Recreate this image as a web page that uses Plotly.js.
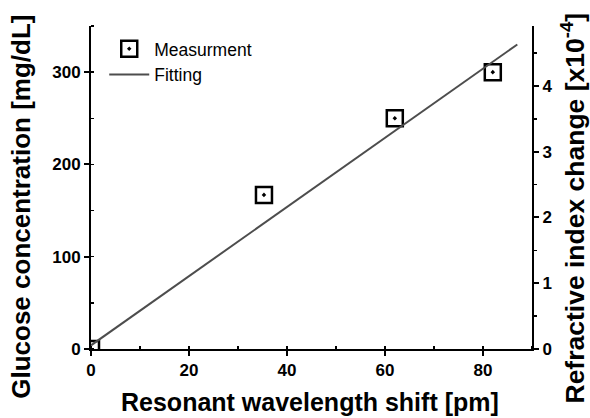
<!DOCTYPE html>
<html>
<head>
<meta charset="utf-8">
<script src="https://cdn.plot.ly/plotly-3.0.1.min.js"></script>
<style>html,body{margin:0;padding:0;background:#fff;}#plot{width:590px;height:418px;}</style>
</head>
<body>
<div id="plot"></div>
<script>
// Measured data
const shiftPm = [0, 35.3, 62, 82];
const glucose = [0, 167, 250, 300];
// Linear fit endpoints
const fitX = [0, 87];
const fitY = [4, 330];
// Axis ranges
const xRange = [0, 90];
const yRange = [0, 350];
const y2Range = [0, 4.91];
// Titles
const xTitle = 'Resonant wavelength shift [pm]';
const yTitle = 'Glucose concentration [mg/dL]';
const y2Title = 'Refractive index change [x10<sup>-4</sup>]';

const FAM = 'Liberation Sans, Arial, sans-serif';
const tickFont = {family: FAM, size: 17, color: '#000', weight: 'bold'};
const yTitleFont = {family: FAM, size: 26, color: '#000', weight: 'bold'};
const y2TitleFont = {family: FAM, size: 26.5, color: '#000', weight: 'bold'};
const xTitleFont = {family: FAM, size: 25, color: '#000', weight: 'bold'};

const traces = [
  {
    x: shiftPm, y: glucose, type: 'scatter', mode: 'markers', name: 'Measurment',
    marker: {symbol: 'square-open-dot', size: 16, color: '#000', line: {width: 2.5, color: '#000'}}
  },
  {
    x: fitX, y: fitY, type: 'scatter', mode: 'lines', name: 'Fitting',
    line: {color: '#4d4d4d', width: 2}
  },
  {
    x: [null], y: [null], yaxis: 'y2', type: 'scatter', mode: 'lines', showlegend: false, hoverinfo: 'skip'
  }
];

const layout = {
  width: 590, height: 418,
  margin: {l: 91, r: 58, t: 26, b: 69},
  paper_bgcolor: '#fff', plot_bgcolor: '#fff',
  showlegend: true,
  legend: {
    x: 0.03, y: 0.985, xanchor: 'left', yanchor: 'top',
    bgcolor: 'rgba(0,0,0,0)',
    font: {family: FAM, size: 17.5, color: '#000'},
    itemwidth: 40, tracegroupgap: 0
  },
  xaxis: {
    range: xRange, dtick: 20, tick0: 0,
    showgrid: false, zeroline: false,
    showline: true, linecolor: '#000', linewidth: 2,
    ticks: 'outside', ticklen: 5, tickwidth: 2, tickcolor: '#000',
    minor: {dtick: 10, ticks: 'inside', ticklen: 3, tickwidth: 1.5, tickcolor: '#000', showgrid: false},
    tickfont: tickFont
  },
  xaxis2: {
    overlaying: 'x', side: 'top', range: xRange, dtick: 10, tick0: 0,
    showgrid: false, zeroline: false, showticklabels: false,
    showline: true, linecolor: '#000', linewidth: 2,
    ticks: 'inside', ticklen: 3, tickwidth: 1.5, tickcolor: '#000'
  },
  yaxis: {
    range: yRange, dtick: 100, tick0: 0,
    showgrid: false, zeroline: false,
    showline: true, linecolor: '#000', linewidth: 2,
    ticks: 'outside', ticklen: 5, tickwidth: 2, tickcolor: '#000',
    minor: {dtick: 50, ticks: 'inside', ticklen: 3, tickwidth: 1.5, tickcolor: '#000', showgrid: false},
    tickfont: tickFont
  },
  yaxis2: {
    overlaying: 'y', side: 'right', range: y2Range, dtick: 1, tick0: 0,
    showgrid: false, zeroline: false,
    showline: true, linecolor: '#000', linewidth: 2,
    ticks: 'outside', ticklen: 5, tickwidth: 2, tickcolor: '#000',
    minor: {dtick: 0.5, ticks: 'outside', ticklen: 3, tickwidth: 1.5, tickcolor: '#000', showgrid: false},
    tickfont: tickFont
  },
  annotations: [
    {text: xTitle, xref: 'paper', yref: 'paper', x: 0.4966, y: -0.165, xanchor: 'center', yanchor: 'middle',
     showarrow: false, font: xTitleFont},
    {text: yTitle, xref: 'paper', yref: 'paper', x: -0.159, y: 0.44, xanchor: 'center', yanchor: 'middle',
     textangle: -90, showarrow: false, font: yTitleFont},
    {text: y2Title, xref: 'paper', yref: 'paper', x: 1.093, y: 0.435, xanchor: 'center', yanchor: 'middle',
     textangle: -90, showarrow: false, font: y2TitleFont}
  ]
};

Plotly.newPlot('plot', traces, layout, {displayModeBar: false, staticPlot: true});
</script>
</body>
</html>
